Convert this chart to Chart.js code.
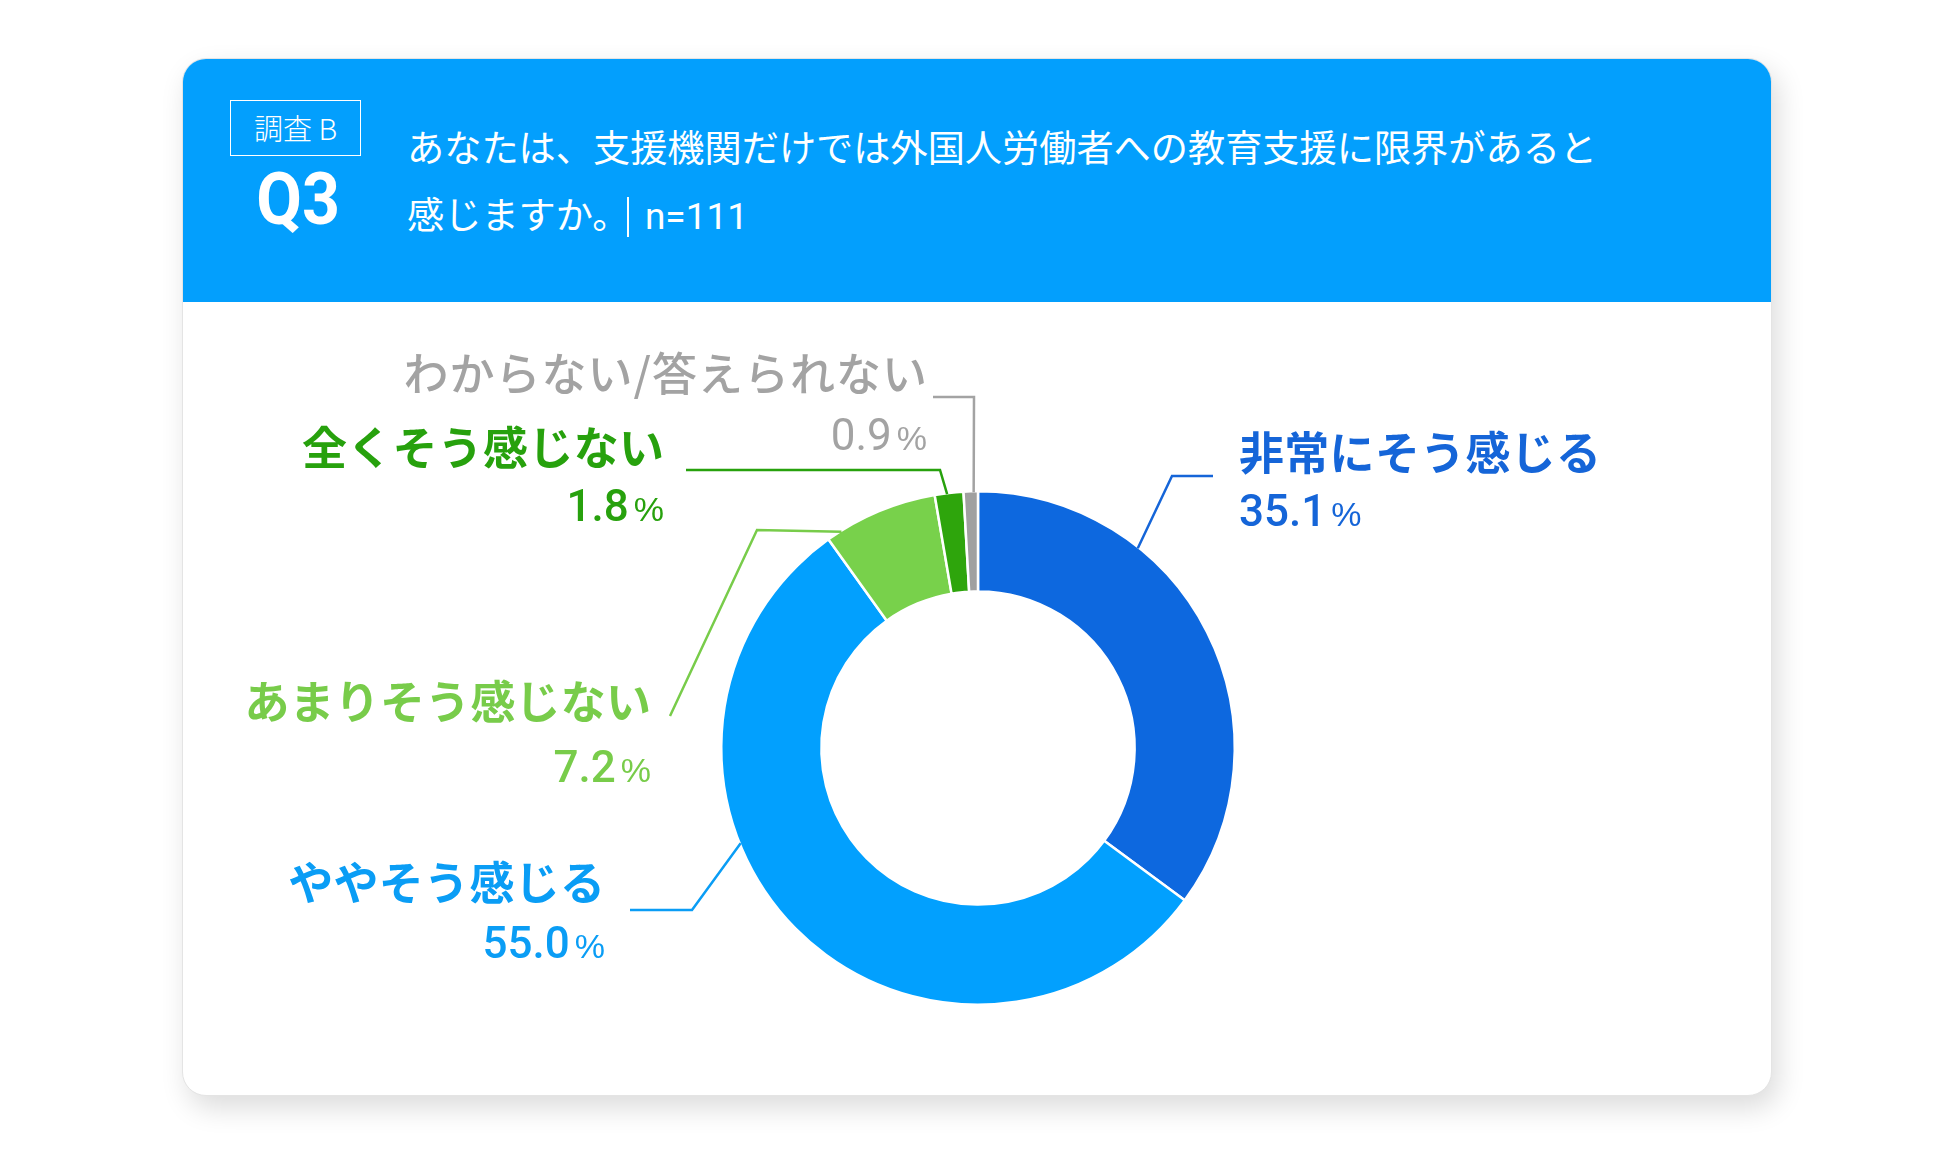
<!DOCTYPE html>
<html lang="ja">
<head>
<meta charset="utf-8">
<script src="https://cdn.jsdelivr.net/npm/chart.js@4.4.1/dist/chart.umd.min.js"></script>
<style>
  html, body { margin: 0; padding: 0; background: #ffffff; }
  body { width: 1950px; height: 1157px; position: relative; overflow: hidden; }
  #card {
    position: absolute; left: 182px; top: 58px; width: 1590px; height: 1038px;
    background: #fff; border-radius: 24px; overflow: hidden;
    box-shadow: 6px 12px 28px rgba(0,0,0,0.14);
    border: 1px solid #e4e4e4; box-sizing: border-box;
  }
  #hdr { position: absolute; left: 0; top: 0; width: 100%; height: 243px; background: #039ffd; }
  .abs { position: absolute; color: #fff; white-space: nowrap; }
  #tag {
    left: 230px; top: 100px; width: 131px; height: 56px; box-sizing: border-box;
    border: 1.5px solid #fff; text-align: center; line-height: 53px;
    font-family: "Noto Sans CJK JP", sans-serif; font-weight: 300; font-size: 29px;
  }
  #q {
    left: 253px; top: 164px; width: 84px; text-align: center;
    font-family: Roboto, "Liberation Sans", sans-serif; font-weight: 700; font-size: 72px;
    line-height: 72px; transform: scaleX(0.92); transform-origin: 50% 50%;
  }
  #title {
    left: 407px; top: 113px; font-family: "Noto Sans CJK JP", sans-serif; font-weight: 400;
    font-size: 37.2px; line-height: 67px;
  }
  #sep { display: inline-block; width: 1.5px; height: 40px; background: #fff; vertical-align: -8px; margin: 0 16px 0 -2px; }
  #n { font-family: Roboto, "Liberation Sans", sans-serif; font-weight: 400; font-size: 37px; }
  #wrap { position: absolute; left: 0; top: 0; width: 1950px; height: 1157px; z-index: 5; }
</style>
</head>
<body>
<div id="card"><div id="hdr"></div></div>
<div class="abs" id="tag">調査 B</div>
<div class="abs" id="q">Q3</div>
<div class="abs" id="title">あなたは、支援機関だけでは外国人労働者への教育支援に限界があると<br>感じますか。<span id="sep"></span><span id="n">n=111</span></div>
<div id="wrap"><canvas id="c"></canvas></div>
<script>
// ---- data ----
const categories = ['非常にそう感じる', 'ややそう感じる', 'あまりそう感じない', '全くそう感じない', 'わからない/答えられない'];
const values = [35.1, 55.0, 7.2, 1.8, 0.9];
const valueLabels = ['35.1', '55.0', '7.2', '1.8', '0.9'];

// ---- styles ----
const sliceColors = ['#0d68df', '#02a0fe', '#78d14b', '#2ea50c', '#a0a0a0'];
const textColors  = ['#1565d8', '#0a9df5', '#78cc4a', '#27a10d', '#a3a3a3'];
const textWeights = [700, 700, 700, 700, 500];
const nameSpacing = [0.3, 0.3, 0.2, 0.3, 1];

// label layout, relative to the doughnut centre (px); anchor = fraction along slice arc
const labelLayout = [
  { f: 0.306, elbow: [194, -272], end: [235, -272], tx: 261,  align: 'left',  nameY: -295, pctY: -238 },
  { f: 0.615, elbow: [-286, 162], end: [-348, 162], tx: -373, align: 'right', nameY: 135,  pctY: 194 },
  { f: 0.13,  elbow: [-221, -218], end: [-308, -32], tx: -327, align: 'right', nameY: -46,  pctY: 18 },
  { f: 0.43,  elbow: [-38, -278], end: [-292, -278], tx: -314, align: 'right', nameY: -300, pctY: -243 },
  { f: 0.7,   elbow: [-4, -351],  end: [-45, -351],  tx: -51,  align: 'right', nameY: -374, pctY: -314 }
];

const JP = '"Noto Sans CJK JP", sans-serif';
const NUM = 'Roboto, "Liberation Sans", sans-serif';
const PCT = '"Liberation Sans", Arial, sans-serif';

const labelPlugin = {
  id: 'leaderLabels',
  afterDatasetsDraw(chart) {
    const ctx = chart.ctx;
    const meta = chart.getDatasetMeta(0);
    meta.data.forEach((arc, i) => {
      const p = arc.getProps(['x', 'y', 'startAngle', 'endAngle', 'outerRadius'], true);
      const L = labelLayout[i];
      const th = p.startAngle + L.f * (p.endAngle - p.startAngle);
      const ax = p.x + (p.outerRadius - 1) * Math.cos(th);
      const ay = p.y + (p.outerRadius - 1) * Math.sin(th);
      ctx.save();
      ctx.strokeStyle = textColors[i];
      ctx.lineWidth = 2.5;
      ctx.lineJoin = 'miter';
      ctx.beginPath();
      ctx.moveTo(ax, ay);
      ctx.lineTo(p.x + L.elbow[0], p.y + L.elbow[1]);
      ctx.lineTo(p.x + L.end[0], p.y + L.end[1]);
      ctx.stroke();

      // category name
      ctx.fillStyle = textColors[i];
      ctx.font = textWeights[i] + ' 45px ' + JP;
      ctx.letterSpacing = nameSpacing[i] + 'px';
      ctx.textBaseline = 'middle';
      ctx.textAlign = L.align;
      const tx = p.x + L.tx;
      ctx.fillText(categories[i], tx + (L.align === 'right' ? nameSpacing[i] : 0), p.y + L.nameY);

      // percentage: digits + smaller %
      const dSize = 44, pSize = 34, gap = 5;
      const wt = i === 4 ? 400 : 500;
      ctx.letterSpacing = '0px';
      ctx.textAlign = 'left';
      ctx.textBaseline = 'alphabetic';
      ctx.font = wt + ' ' + dSize + 'px ' + NUM;
      const wd = ctx.measureText(valueLabels[i]).width;
      ctx.font = '400 ' + pSize + 'px ' + PCT;
      const wp = ctx.measureText('%').width;
      const total = wd + gap + wp;
      const sx = L.align === 'left' ? tx : tx - total;
      const base = p.y + L.pctY + dSize * 0.355;
      ctx.font = wt + ' ' + dSize + 'px ' + NUM;
      ctx.fillText(valueLabels[i], sx, base);
      ctx.font = '400 ' + pSize + 'px ' + PCT;
      ctx.fillText('%', sx + wd + gap, base);
      ctx.restore();
    });
  }
};

function build() {
  new Chart(document.getElementById('c'), {
    type: 'doughnut',
    data: {
      labels: categories,
      datasets: [{
        data: values,
        backgroundColor: sliceColors,
        borderColor: '#ffffff',
        borderWidth: 2.5,
        hoverOffset: 0
      }]
    },
    options: {
      responsive: true,
      maintainAspectRatio: false,
      animation: false,
      cutout: '61%',
      rotation: 0,
      layout: { padding: { left: 720, right: 714, top: 490, bottom: 151 } },
      plugins: { legend: { display: false }, tooltip: { enabled: false } }
    },
    plugins: [labelPlugin]
  });
}

Promise.all([
  document.fonts.load('700 45px "Noto Sans CJK JP"', 'あ'),
  document.fonts.load('500 45px "Noto Sans CJK JP"', 'あ'),
  document.fonts.load('500 44px Roboto', '0'),
  document.fonts.load('400 44px Roboto', '0'),
  document.fonts.load('400 34px "Liberation Sans"', '%')
]).catch(() => {}).then(build);
</script>
</body>
</html>
